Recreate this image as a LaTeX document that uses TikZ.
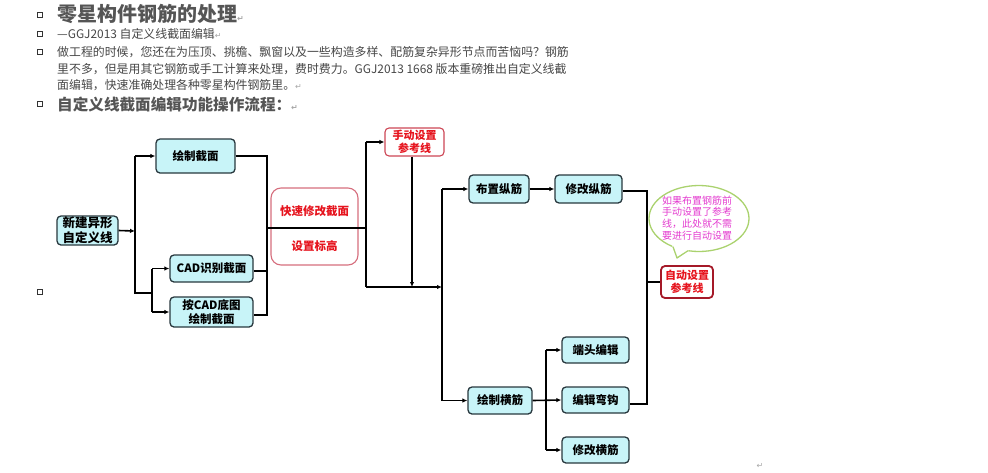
\documentclass[tikz,border=0pt]{standalone}
\usepackage{fontspec}
\setmainfont{Noto Sans CJK SC}
\newfontfamily\symf{DejaVu Sans}
\usetikzlibrary{arrows.meta,shapes.geometric}
\definecolor{cyanfill}{RGB}{200,244,248}
\definecolor{boxline}{RGB}{40,56,62}
\definecolor{redtxt}{RGB}{230,20,30}
\definecolor{redline}{RGB}{214,110,125}
\definecolor{redline2}{RGB}{205,70,85}
\definecolor{darkred}{RGB}{165,25,40}
\definecolor{bubline}{RGB}{170,210,110}
\definecolor{bubtxt}{RGB}{228,60,208}
\definecolor{headtxt}{RGB}{85,85,85}
\definecolor{bodytxt}{RGB}{70,70,70}
\newcommand{\retmark}{{\symf\color{gray!70}\fontsize{8}{8}\selectfont ↵}}
\tikzset{
  cbox/.style={draw=boxline, fill=cyanfill, rounded corners=4pt, line width=1.3pt, inner sep=0pt, align=center, font=\bfseries\fontsize{11.5}{14}\selectfont},
  rbox/.style={draw=redline2, fill=white, rounded corners=4pt, line width=1.1pt, inner sep=0pt, align=center, text=redtxt, font=\bfseries\fontsize{11}{13}\selectfont},
  conn/.style={line width=1.6pt, black},
  arr/.style={conn, -{Latex[length=5pt,width=4.5pt]}},
  bullet/.style={draw=black!80, line width=0.8pt, minimum size=4.5pt, inner sep=0pt},
  txt/.style={anchor=base west, inner sep=0pt, text=bodytxt, font=\fontsize{11.9}{14}\selectfont}
}
\begin{document}
\begin{tikzpicture}[x=1pt,y=-1pt]
\useasboundingbox (0,0) rectangle (988,472);
% bullets
\node[bullet] (b1) at (40,15) {};
\node[bullet] (b2) at (40,34) {};
\node[bullet] (b3) at (40,52) {};
\node[bullet] (b4) at (40,104) {};
\node[bullet] (b5) at (40,292) {};
% heading text
\node[txt, text=headtxt, font=\bfseries\fontsize{20}{22}\selectfont] (t1) at (57,21) {零星构件钢筋的处理\retmark};
\node[txt] (t2) at (57,38.5) {—GGJ2013 自定义线截面编辑\retmark};
\node[txt] (t3) at (57,56.5) {做工程的时候，您还在为压顶、挑檐、飘窗以及一些构造多样、配筋复杂异形节点而苦恼吗？钢筋};
\node[txt] (t4) at (57,73) {里不多，但是用其它钢筋或手工计算来处理，费时费力。GGJ2013 1668 版本重磅推出自定义线截};
\node[txt] (t5) at (57,89.5) {面编辑，快速准确处理各种零星构件钢筋里。\retmark};
\node[txt, text=headtxt, font=\bfseries\fontsize{15.6}{18}\selectfont] (t6) at (57,110) {自定义线截面编辑功能操作流程：\retmark};
% boxes
\node[cbox, minimum width=61pt, minimum height=29pt, font=\bfseries\fontsize{12.5}{15}\selectfont] (n1) at (87.5,230.5) {新建异形\\自定义线};
\node[cbox, minimum width=79pt, minimum height=34pt] (n2) at (195.5,156) {绘制截面};
\node[cbox, minimum width=83pt, minimum height=27pt] (n3) at (211.5,268.5) {CAD识别截面};
\node[cbox, minimum width=83pt, minimum height=30pt, font=\bfseries\fontsize{11.5}{13.5}\selectfont] (n4) at (211.5,312) {按CAD底图\\绘制截面};
\node[draw=redline, fill=white, rounded corners=10pt, line width=1.1pt, minimum width=87pt, minimum height=77pt] (n5) at (314.5,226.5) {};
\node[text=redtxt, font=\bfseries\fontsize{11.5}{13}\selectfont, inner sep=0pt] (n5a) at (314.5,211) {快速修改截面};
\node[text=redtxt, font=\bfseries\fontsize{11.5}{13}\selectfont, inner sep=0pt] (n5b) at (314.5,246) {设置标高};
\node[rbox, minimum width=59pt, minimum height=28pt] (n6) at (414.5,142) {手动设置\\参考线};
\node[cbox, minimum width=60pt, minimum height=28pt] (n7) at (499,189) {布置纵筋};
\node[cbox, minimum width=67pt, minimum height=28pt] (n8) at (588.5,189) {修改纵筋};
\node[rbox, draw=darkred, line width=1.8pt, minimum width=52pt, minimum height=32pt] (n9) at (687,282) {自动设置\\参考线};
\node[cbox, minimum width=64pt, minimum height=27pt] (n10) at (500,400.5) {绘制横筋};
\node[cbox, minimum width=67pt, minimum height=26pt] (n11) at (595.5,350) {端头编辑};
\node[cbox, minimum width=67pt, minimum height=26pt] (n12) at (595.5,400) {编辑弯钩};
\node[cbox, minimum width=67pt, minimum height=26pt] (n13) at (595.5,450) {修改横筋};
% bubble
\node[ellipse, draw=bubline, fill=white, line width=1.3pt, minimum width=100pt, minimum height=66pt, inner sep=0pt] (bub) at (699,218.5) {};
\fill[white] (672,245.3) -- (677,258) -- (689.5,249.6) -- cycle;
\draw[bubline, line width=1.3pt, line join=round] (673,246.7) -- (677,258) -- (688,250.7);
\node[text=bubtxt, align=center, inner sep=0pt, font=\fontsize{10}{11.8}\selectfont] (bubt) at (697,218) {如果布置钢筋前\\手动设置了参考\\线，此处就不需\\要进行自动设置};
% junction coordinates
\coordinate (j1) at (135,231);
\coordinate (j1t) at (135,156);
\coordinate (j1b) at (135,293);
\coordinate (j2) at (152,293);
\coordinate (j2t) at (152,268.5);
\coordinate (j2b) at (152,312);
\coordinate (j3t) at (267,156);
\coordinate (j3m) at (267,228);
\coordinate (j3b) at (267,315);
\coordinate (j3c) at (267,271);
\coordinate (j4t) at (366,142);
\coordinate (j4m) at (366,228);
\coordinate (j4b) at (366,287);
\coordinate (j5) at (412,287);
\coordinate (j6t) at (442,189);
\coordinate (j6m) at (442,287);
\coordinate (j6b) at (442,400.5);
\coordinate (j7t) at (647,191);
\coordinate (j7m) at (647,282);
\coordinate (j7b) at (647,404);
\coordinate (j8) at (546,400.5);
\coordinate (j8t) at (546,350);
\coordinate (j8b) at (546,450);
\coordinate (nret) at (760,466);
% connectors
\draw[arr] (n1.east) -- (j1);
\draw[conn] (j1t) -- (j1b) -- (j2);
\draw[arr] (j1t) -- (n2.west);
\draw[conn] (j2t) -- (j2b);
\draw[arr] (j2t) -- (n3.west);
\draw[arr] (j2b) -- (n4.west);
\draw[conn] (n2.east) -- (j3t) -- (j3b) -- (n4.east |- j3b);
\draw[conn] (n3.east |- j3c) -- (j3c);
\draw[conn] (j3m) -- (j4m);
\draw[conn] (j4t) -- (j4b);
\draw[arr] (j4t) -- (n6.west);
\draw[arr] (n6.south -| j5) -- (j5);
\draw[arr] (j4b) -- (j6m);
\draw[conn] (j6t) -- (j6b);
\draw[arr] (j6t) -- (n7.west);
\draw[arr] (n7.east) -- (n8.west);
\draw[conn] (n8.east |- j7t) -- (j7t) -- (j7b) -- (n12.east |- j7b);
\draw[conn] (j7m) -- (n9.west);
\draw[arr] (j6b) -- (n10.west);
\draw[arr] (n10.east) -- (n12.west);
\draw[conn] (j8t) -- (j8b);
\draw[arr] (j8t) -- (n11.west);
\draw[arr] (j8b) -- (n13.west);
\node[inner sep=0pt] (ret) at (nret) {\retmark};
\end{tikzpicture}
\end{document}
